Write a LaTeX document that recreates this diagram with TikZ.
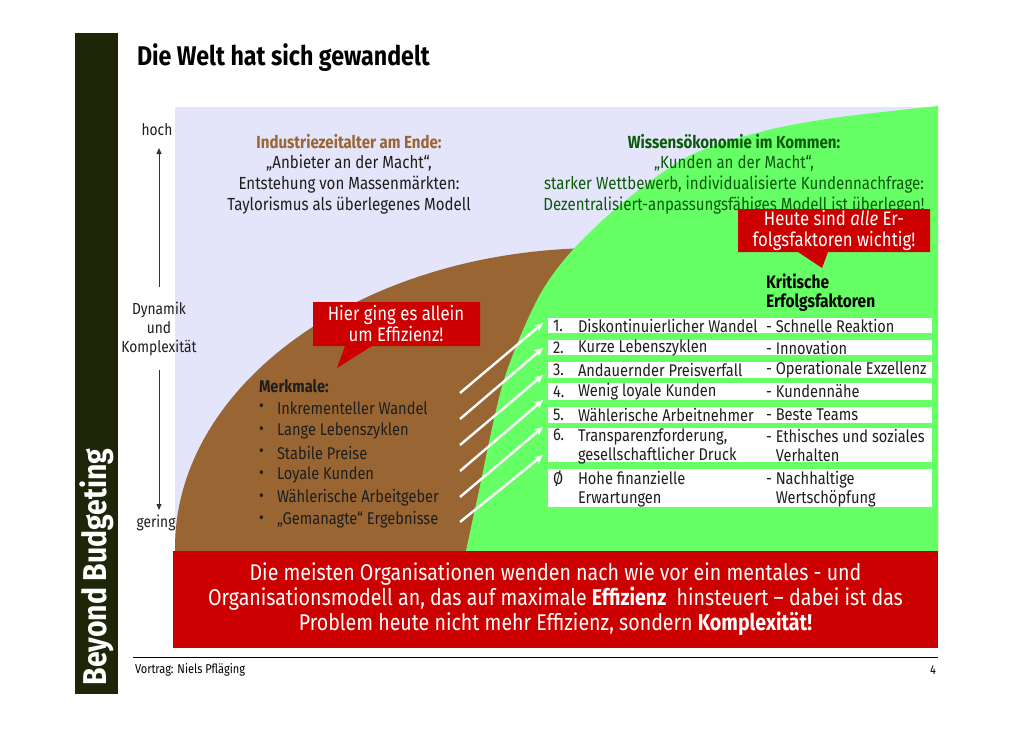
\documentclass[tikz,border=0pt]{standalone}
\usepackage{fontspec}
\setmainfont{Fira Sans}[FakeStretch=0.86]
\usetikzlibrary{arrows.meta}
\definecolor{barcol}{RGB}{30,38,8}
\definecolor{lav}{RGB}{228,228,250}
\definecolor{brn}{RGB}{153,102,51}
\definecolor{grn}{RGB}{102,255,102}
\definecolor{redc}{RGB}{204,0,0}
\definecolor{dkgrn}{RGB}{10,90,10}
\definecolor{txt}{RGB}{30,30,30}
\tikzset{
  plain/.style={inner sep=0pt, outer sep=0pt, text=txt},
  rowbox/.style={fill=white, draw=none, minimum width=384pt, inner sep=0pt, outer sep=0pt},
  rowtxt/.style={plain, anchor=west, align=left, font=\fontsize{17}{19}\selectfont},
  whitearrow/.style={draw=white, line width=2.4pt, -{Stealth[length=9pt,width=8pt]}},
  axisarrow/.style={draw=black!80, line width=0.8pt, -{Triangle[length=6pt,width=5pt]}},
  callout/.style={fill=redc, draw=none},
  calltxt/.style={plain, text=white, align=center, font=\fontsize{19.5}{21}\selectfont},
  merk/.style={plain, anchor=west, font=\fontsize{17}{18}\selectfont}
}
\begin{document}
\begin{tikzpicture}[x=1pt,y=-1pt]
\useasboundingbox (0,0) rectangle (1030,728);
\fill[white] (0,0) rectangle (1030,728);
% left bar
\fill[barcol] (75,33) rectangle (118,694);
\node[plain, text=white, rotate=90, font=\bfseries\fontsize{33}{34}\selectfont] (bb) at (97,567) {Beyond Budgeting};
% title
\node[plain, anchor=west, text=black, font=\bfseries\fontsize{27}{28}\selectfont] (title) at (137,58) {Die Welt hat sich gewandelt};
% background
\fill[lav] (175,107) rectangle (938,551);
\begin{scope}
\clip (175,107) rectangle (938,551);
\fill[brn] (600,548) ellipse [x radius=425pt, y radius=300pt];
\end{scope}
\fill[grn] plot[smooth] coordinates {(466,551) (477,500) (503,383) (537,300) (570,253) (620,205) (687,157) (760,132) (833,118) (938,106)} -- (938,551) -- cycle;
% axis
\node[plain, font=\fontsize{16}{17}\selectfont] (hoch) at (157,130) {hoch};
\node[plain, align=center, font=\fontsize{16}{19}\selectfont] (dyn) at (159,329) {Dynamik\\und\\Komplexität};
\node[plain, font=\fontsize{16}{17}\selectfont] (gering) at (156,523) {gering};
\coordinate (upS) at (159,287);
\coordinate (upE) at (159,148);
\coordinate (dnS) at (159,370);
\coordinate (dnE) at (159,510);
\draw[axisarrow] (upS) -- (upE);
\draw[axisarrow] (dnS) -- (dnE);
% top texts
\node[plain, align=center, font=\fontsize{17.5}{20.7}\selectfont] (ind) at (349,174)
  {{\bfseries\color{brn}Industriezeitalter am Ende:}\\„Anbieter an der Macht“,\\Entstehung von Massenmärkten:\\Taylorismus als überlegenes Modell};
\node[plain, text=dkgrn, align=center, font=\fontsize{17.5}{20.7}\selectfont] (wis) at (734,174)
  {{\bfseries Wissensökonomie im Kommen:}\\„Kunden an der Macht“,\\starker Wettbewerb, individualisierte Kundennachfrage:\\Dezentralisiert-anpassungsfähiges Modell ist überlegen!};
% callout 1
\fill[callout] (313,302) -- (480,302) -- (480,346) -- (372,346) -- (337,368) -- (345,346) -- (313,346) -- cycle;
\node[calltxt] (c1) at (396,324) {Hier ging es allein\\um Effizienz!};
% callout 2
\fill[callout] (738,209) -- (930,209) -- (930,252) -- (828,252) -- (822,268) -- (798,252) -- (738,252) -- cycle;
\node[calltxt] (c2) at (834,230.5) {Heute sind \emph{alle} Er-\\folgsfaktoren wichtig!};
% Merkmale
\node[merk, font=\bfseries\fontsize{17}{18}\selectfont] (mh) at (259,386) {Merkmale:};
\foreach \i/\t/\y in {1/Inkrementeller Wandel/408, 2/Lange Lebenszyklen/431, 3/Stabile Preise/453, 4/Loyale Kunden/475, 5/Wählerische Arbeitgeber/498, 6/„Gemanagte“ Ergebnisse/520} {
  \node[merk] (mb\i) at (259,\y) {•};
  \node[merk] (m\i) at (277,\y) {\t};
}
% table header
\node[plain, anchor=west, align=left, text=black, font=\bfseries\fontsize{18}{19}\selectfont] (kf) at (766,292.5) {Kritische\\Erfolgsfaktoren};
% table rows
\node[rowbox, minimum height=15.5pt] (r1) at (740,325.5) {};
\node[rowbox, minimum height=15.5pt] (r2) at (740,347.5) {};
\node[rowbox, minimum height=16pt] (r3) at (740,370) {};
\node[rowbox, minimum height=16.5pt] (r4) at (740,391.5) {};
\node[rowbox, minimum height=16pt] (r5) at (740,415) {};
\node[rowbox, minimum height=34pt] (r6) at (740,445) {};
\node[rowbox, minimum height=38pt] (r7) at (740,488) {};
\foreach \r/\n/\a/\b in {r1/1./Diskontinuierlicher Wandel/- Schnelle Reaktion, r2/2./Kurze Lebenszyklen/- Innovation, r3/3./Andauernder Preisverfall/- Operationale Exzellenz, r4/4./Wenig loyale Kunden/- Kundennähe, r5/5./Wählerische Arbeitnehmer/- Beste Teams} {
  \node[rowtxt] (\r n) at ([xshift=5pt]\r.west) {\n};
  \node[rowtxt] (\r a) at ([xshift=30pt]\r.west) {\a};
  \node[rowtxt] (\r b) at ([xshift=218pt]\r.west) {\b};
}
\node[rowtxt, anchor=north west] (r6n) at ([xshift=5pt,yshift=-1pt]r6.north west) {6.};
\node[rowtxt, anchor=north west] (r6a) at ([xshift=30pt,yshift=-1pt]r6.north west) {Transparenzforderung,\\gesellschaftlicher Druck};
\node[rowtxt, anchor=north west] (r6b) at ([xshift=218pt,yshift=-1pt]r6.north west) {- Ethisches und soziales\\\phantom{-} Verhalten};
\node[rowtxt, anchor=north west] (r7n) at ([xshift=5pt,yshift=-2pt]r7.north west) {Ø};
\node[rowtxt, anchor=north west] (r7a) at ([xshift=30pt,yshift=-2pt]r7.north west) {Hohe finanzielle\\Erwartungen};
\node[rowtxt, anchor=north west] (r7b) at ([xshift=218pt,yshift=-2pt]r7.north west) {- Nachhaltige\\\phantom{-} Wertschöpfung};
% white arrows
\foreach \i/\ys/\ye in {1/393/323, 2/419/348, 3/445/375, 4/471/400, 5/497/427, 6/522/455} {
  \coordinate (s\i) at (460,\ys);
  \coordinate (e\i) at (543,\ye);
  \draw[whitearrow] (s\i) -- (e\i);
}
% bottom banner
\node[fill=redc, minimum width=765pt, minimum height=97pt, inner sep=0pt, outer sep=0pt, text=white, align=center, font=\fontsize{22.8}{25}\selectfont] (ban) at (555.5,599.5)
  {Die meisten Organisationen wenden nach wie vor ein mentales - und\\Organisationsmodell an, das auf maximale \textbf{Effizienz}\ \ hinsteuert – dabei ist das\\Problem heute nicht mehr Effizienz, sondern \textbf{Komplexität!}};
% footer
\coordinate (fl) at (133,657);
\coordinate (fr) at (938,657);
\draw[black, line width=1pt] (fl) -- (fr);
\node[plain, anchor=west, text=black, font=\fontsize{12.8}{13}\selectfont] (vor) at (135,670) {Vortrag: Niels Pfläging};
\node[plain, anchor=east, text=black, font=\fontsize{12.8}{13}\selectfont] (pg) at (936,670) {4};
\end{tikzpicture}
\end{document}
